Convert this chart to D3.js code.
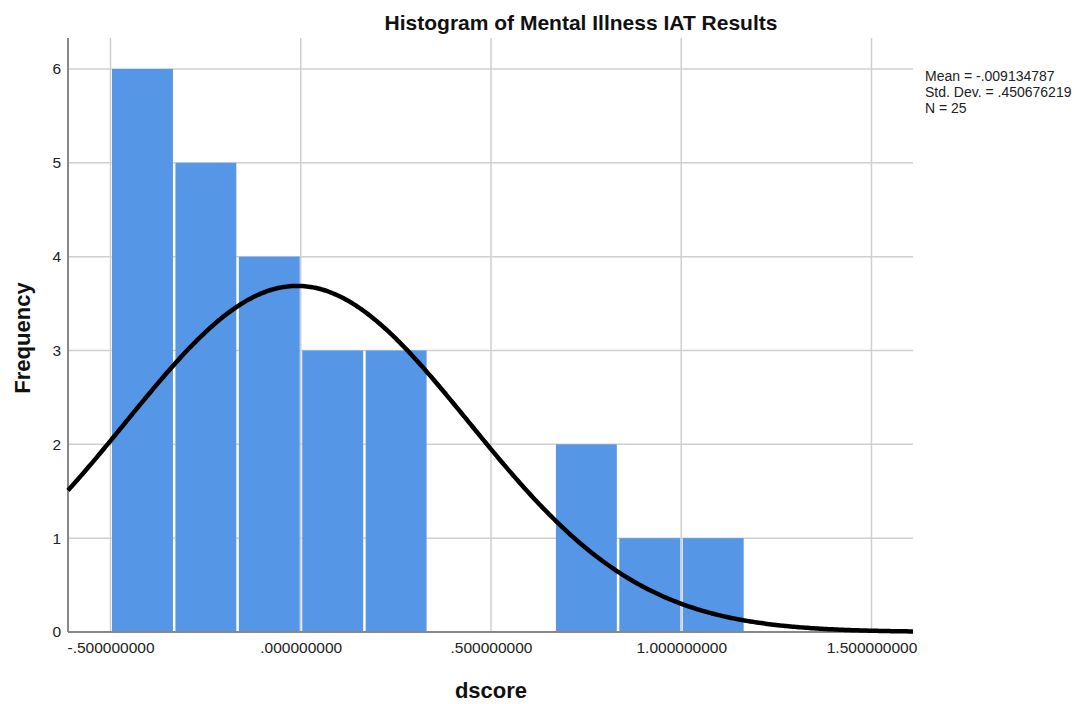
<!DOCTYPE html>
<html>
<head>
<meta charset="utf-8">
<script src="https://cdn.jsdelivr.net/npm/d3@7"></script>
<style>
  html, body { margin: 0; padding: 0; background: #fff; }
  svg { display: block; font-family: "Liberation Sans", Arial, sans-serif; }
</style>
</head>
<body>
<svg id="chart" width="1092" height="704"></svg>
<script>
// ---- data ----
const binStarts = [-0.5, -0.3333333, -0.1666667, 0.0, 0.1666667, 0.3333333, 0.5, 0.6666667, 0.8333333, 1.0];
const binWidth = 1 / 6;
const counts = [6, 5, 4, 3, 3, 0, 0, 2, 1, 1];
const xTicks = [-0.5, 0.0, 0.5, 1.0, 1.5];
const xTickLabels = ["-.500000000", ".000000000", ".500000000", "1.000000000", "1.500000000"];
const yTicks = [0, 1, 2, 3, 4, 5, 6];
const stats = { mean: -0.009134787, sd: 0.450676219, n: 25 };
const legendLines = ["Mean = -.009134787", "Std. Dev. = .450676219", "N = 25"];
const title = "Histogram of Mental Illness IAT Results";
const xTitle = "dscore";
const yTitle = "Frequency";

// ---- layout ----
const svg = d3.select("#chart");
const L = 68, R = 913, T = 38, B = 632;
const x = d3.scaleLinear().domain([-0.5, 1.5]).range([110.5, 871.5]);
const xDom = [x.invert(L), x.invert(R)];
x.domain(xDom).range([L, R]);
const y = d3.scaleLinear().domain([0, 6]).range([B, 69]);

// gridlines
const grid = svg.append("g");
grid.selectAll("line.v").data(xTicks).join("line")
  .attr("x1", d => x(d)).attr("x2", d => x(d))
  .attr("y1", T).attr("y2", B)
  .attr("stroke", "#cfcfcf").attr("stroke-width", 1.5);
grid.selectAll("line.h").data(yTicks.filter(d => d > 0)).join("line")
  .attr("x1", L).attr("x2", R)
  .attr("y1", d => y(d)).attr("y2", d => y(d))
  .attr("stroke", "#cfcfcf").attr("stroke-width", 1.5);

// bars
svg.append("g").selectAll("rect").data(binStarts.map((s, i) => ({ s, c: counts[i] })).filter(d => d.c > 0))
  .join("rect")
  .attr("x", d => x(d.s) + 1.5)
  .attr("width", d => x(d.s + binWidth) - x(d.s) - 2.5)
  .attr("y", d => y(d.c))
  .attr("height", d => y(0) - y(d.c))
  .attr("fill", "#5596e6");

// axes
const xAxis = d3.axisBottom(x).tickValues(xTicks).tickFormat((d, i) => xTickLabels[i]).tickSize(0).tickPadding(10);
const gx = svg.append("g").attr("transform", `translate(0,${B})`).call(xAxis);
gx.select(".domain").attr("stroke", "#888").attr("stroke-width", 2).attr("d", `M${L},0H${R}`);
gx.selectAll("text").attr("font-size", "15.5px").attr("fill", "#222").attr("font-family", "Liberation Sans, Arial, sans-serif");

const yAxis = d3.axisLeft(y).tickValues(yTicks).tickFormat(d3.format("d")).tickSize(0).tickPadding(7);
const gy = svg.append("g").attr("transform", `translate(${L},0)`).call(yAxis);
gy.select(".domain").attr("stroke", "#888").attr("stroke-width", 2).attr("d", `M0,${T}V${B}`);
gy.selectAll("text").attr("font-size", "15.5px").attr("fill", "#222").attr("font-family", "Liberation Sans, Arial, sans-serif");

// normal curve from stated mean, sd, n and bin width
const curveXs = d3.range(0, 401).map(i => xDom[0] + (xDom[1] - xDom[0]) * i / 400);
const dens = v => stats.n * binWidth / (stats.sd * Math.sqrt(2 * Math.PI)) * Math.exp(-0.5 * Math.pow((v - stats.mean) / stats.sd, 2));
svg.append("path")
  .datum(curveXs)
  .attr("d", d3.line().x(d => x(d)).y(d => y(dens(d))).curve(d3.curveBasis))
  .attr("fill", "none").attr("stroke", "#000").attr("stroke-width", 4.5);

// titles
svg.append("text").attr("x", 581).attr("y", 30).attr("text-anchor", "middle")
  .attr("font-size", "21px").attr("font-weight", "bold").attr("fill", "#111").text(title);
svg.append("text").attr("x", 491).attr("y", 698).attr("text-anchor", "middle")
  .attr("font-size", "22px").attr("font-weight", "bold").attr("fill", "#111").text(xTitle);
svg.append("text").attr("transform", "translate(30,338) rotate(-90)").attr("text-anchor", "middle")
  .attr("font-size", "22px").attr("font-weight", "bold").attr("fill", "#111").text(yTitle);

// legend
svg.append("g").selectAll("text").data(legendLines).join("text")
  .attr("x", 925).attr("y", (d, i) => 81 + i * 16)
  .attr("font-size", "14px").attr("fill", "#222").text(d => d);
</script>
</body>
</html>
